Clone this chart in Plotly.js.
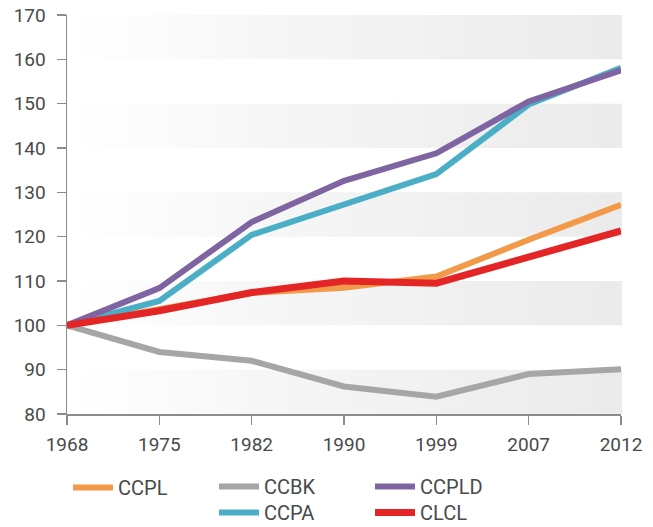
<!DOCTYPE html>
<html>
<head>
<meta charset="utf-8">
<script src="https://cdn.plot.ly/plotly-3.0.1.min.js"></script>
<style>
html,body{margin:0;padding:0;background:#fff;}
#chart{width:653px;height:527px;}
</style>
</head>
<body>
<div id="chart"></div>
<script>
const years = ["1968", "1975", "1982", "1990", "1999", "2007", "2012"];
const ccpl  = [100, 103.5, 107.3, 108.5, 111.0, 119.3, 127.2];
const ccbk  = [100, 94.0, 92.0, 86.2, 83.9, 89.0, 90.1];
const ccpa  = [100, 105.5, 120.4, 127.4, 134.1, 149.8, 158.1];
const ccpld = [100, 108.4, 123.3, 132.6, 138.8, 150.5, 157.5];
const clcl  = [100, 103.3, 107.4, 110.0, 109.5, 115.5, 121.3];
const yTicks = [80, 90, 100, 110, 120, 130, 140, 150, 160, 170];

const font = "Roboto, 'DejaVu Sans', sans-serif";

function tr(name, y, color, width, legend) {
  return {
    x: years, y: y, name: name, type: 'scatter', mode: 'lines',
    line: {color: color, width: width, shape: 'linear'},
    legend: legend, cliponaxis: false, hoverinfo: 'skip'
  };
}

const data = [
  tr('CCBK', ccbk, '#a6a6a5', 6, 'legend2'),
  tr('CCPL', ccpl, '#f39a4a', 6, 'legend'),
  tr('CCPA', ccpa, '#4aafc6', 6, 'legend4'),
  tr('CCPLD', ccpld, '#7f64a2', 6, 'legend3'),
  tr('CLCL', clcl, '#e32526', 7, 'legend5')
];

// gradient bands behind the plot (every other 10-unit band)
const shapes = [];
const nSlices = 24;
for (let b = 0; b < yTicks.length - 1; b += 2) {
  for (let i = 0; i < nSlices; i++) {
    const t = (i + 0.5) / nSlices;
    const c = Math.round(255 - 20 * Math.pow(t, 0.8));
    shapes.push({
      type: 'rect', layer: 'below', xref: 'paper', yref: 'y',
      x0: 0.03 + 0.97 * i / nSlices, x1: 0.03 + 0.97 * (i + 1) / nSlices + 0.002,
      y0: yTicks[b], y1: yTicks[b + 1],
      fillcolor: `rgb(${c},${c},${c + 1})`, line: {width: 0}
    });
  }
}

function lg(xpx, ypx) {
  return {
    orientation: 'h', xref: 'container', yref: 'container', xanchor: 'left', yanchor: 'top',
    x: xpx / 653, y: 1 - ypx / 527,
    font: {family: font, size: 20, color: '#4a4a4a'}, bgcolor: 'rgba(0,0,0,0)',
    itemwidth: 40, tracegroupgap: 0
  };
}

const layout = {
  width: 653, height: 527,
  margin: {l: 67, r: 32, t: 15, b: 113},
  paper_bgcolor: '#fff', plot_bgcolor: '#fff',
  showlegend: true,
  font: {family: font, color: '#4a4a4a'},
  xaxis: {
    type: 'category', range: [0, 6], showgrid: false, zeroline: false,
    showline: true, linecolor: '#8c8c8c', linewidth: 1.5,
    ticks: 'outside', ticklen: 9, tickcolor: '#8c8c8c', tickwidth: 1.5,
    ticklabelstandoff: 4,
    tickfont: {family: font, size: 19, color: '#4a4a4a'}, automargin: false
  },
  yaxis: {
    range: [80, 170], tickvals: yTicks, showgrid: false, zeroline: false,
    showline: true, linecolor: '#8c8c8c', linewidth: 1.5,
    ticks: 'outside', ticklen: 9, tickcolor: '#8c8c8c', tickwidth: 1.5,
    ticklabelstandoff: 7,
    tickfont: {family: font, size: 19, color: '#4a4a4a'}, automargin: false
  },
  shapes: shapes,
  legend: lg(68, 468),
  legend2: lg(214, 467),
  legend3: lg(370, 467),
  legend4: lg(214, 493),
  legend5: lg(370, 493)
};

Plotly.newPlot('chart', data, layout, {staticPlot: true, displayModeBar: false});
</script>
</body>
</html>
